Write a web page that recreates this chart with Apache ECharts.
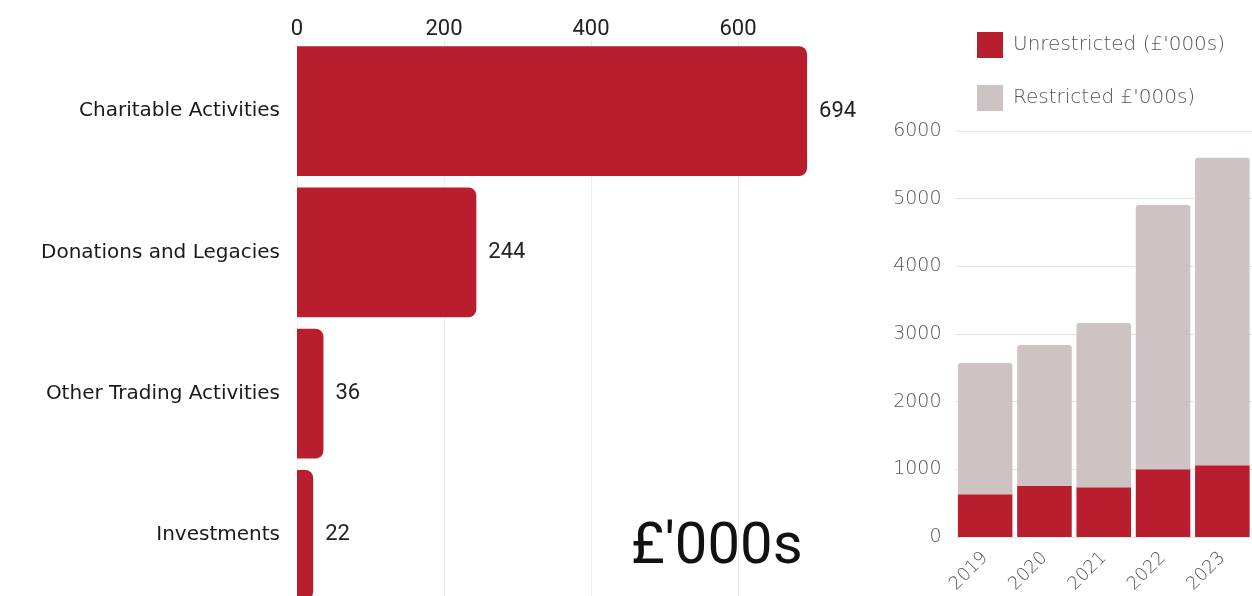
<!DOCTYPE html>
<html>
<head>
<meta charset="utf-8">
<script src="https://cdn.jsdelivr.net/npm/echarts@6/dist/echarts.min.js"></script>
<style>
  html, body { margin: 0; padding: 0; background: #fff; overflow: hidden; }
  /* the lowest bar runs past the bottom edge, so the canvas is a little taller than the view */
  #chart { width: 1252px; height: 612px; }
</style>
</head>
<body>
<div id="chart"></div>
<script>
// Income by source (£'000s)
const incomeSources = ['Charitable Activities', 'Donations and Legacies', 'Other Trading Activities', 'Investments'];
const incomeValues = [694, 244, 36, 22];
const incomeTicks = [0, 200, 400, 600];

// Funds by year (£'000s)
const years = ['2019', '2020', '2021', '2022', '2023'];
const unrestricted = [630, 757, 737, 1000, 1060];
const restricted = [1940, 2080, 2424, 3906, 4546];
const fundTicks = [0, 1000, 2000, 3000, 4000, 5000, 6000];

const RED = '#b81e2d';
const GREY = '#cdc3c3';
const LABEL_FONT = '"DejaVu Sans", "Noto Sans", sans-serif';
const NUM_FONT = 'Roboto, "Noto Sans", sans-serif';

const chart = echarts.init(document.getElementById('chart'));

chart.setOption({
  animation: false,
  title: {
    text: "£'000s",
    left: 631,
    top: 519,
    padding: 0,
    textStyle: { fontFamily: NUM_FONT, fontSize: 58, fontWeight: 'normal', color: '#111' }
  },
  legend: {
    orient: 'vertical',
    left: 972,
    top: 27,
    itemWidth: 26,
    itemHeight: 26,
    itemGap: 27,
    icon: 'rect',
    textStyle: { fontFamily: LABEL_FONT, fontSize: 20, fontWeight: 200, color: '#555', padding: [0, 0, 0, 5] },
    data: ['Unrestricted (£\'000s)', 'Restricted £\'000s)']
  },
  grid: [
    { left: 297, top: 40.5, width: 514.5, height: 565, containLabel: false },
    { left: 955.5, top: 131, width: 300, height: 406, containLabel: false }
  ],
  xAxis: [
    {
      gridIndex: 0,
      type: 'value',
      position: 'top',
      min: incomeTicks[0],
      max: 700,
      interval: incomeTicks[1] - incomeTicks[0],
      axisLine: { show: false },
      axisTick: { show: false },
      axisLabel: {
        showMaxLabel: false,
        margin: 0,
        fontFamily: NUM_FONT, fontSize: 22, color: '#222'
      },
      splitLine: { show: true, showMaxLine: false, lineStyle: { color: '#ececec', width: 1 } }
    },
    {
      gridIndex: 1,
      type: 'category',
      data: years,
      axisLine: { show: false },
      axisTick: { show: false },
      axisLabel: {
        rotate: 45,
        margin: 18,
        fontFamily: LABEL_FONT, fontSize: 18, fontWeight: 200, color: '#555'
      }
    }
  ],
  yAxis: [
    {
      gridIndex: 0,
      type: 'category',
      inverse: true,
      data: incomeSources,
      axisLine: { show: false },
      axisTick: { show: false },
      axisLabel: {
        margin: 17,
        fontFamily: LABEL_FONT, fontSize: 20, color: '#1a1a1a'
      }
    },
    {
      gridIndex: 1,
      type: 'value',
      min: fundTicks[0],
      max: fundTicks[fundTicks.length - 1],
      interval: fundTicks[1] - fundTicks[0],
      axisLine: { show: false },
      axisTick: { show: false },
      axisLabel: {
        margin: 14,
        formatter: (v) => String(v),
        fontFamily: LABEL_FONT, fontSize: 19, fontWeight: 200, color: '#555'
      },
      splitLine: { show: true, lineStyle: { color: '#e4e4e4', width: 1 } }
    }
  ],
  series: [
    {
      type: 'bar',
      xAxisIndex: 0,
      yAxisIndex: 0,
      data: incomeValues,
      barCategoryGap: '8%',
      itemStyle: { color: RED, borderRadius: [0, 8, 8, 0] },
      label: {
        show: true,
        position: 'right',
        distance: 12,
        fontFamily: NUM_FONT, fontSize: 22, color: '#222'
      }
    },
    {
      name: 'Unrestricted (£\'000s)',
      type: 'bar',
      xAxisIndex: 1,
      yAxisIndex: 1,
      stack: 'funds',
      data: unrestricted,
      barCategoryGap: '8%',
      itemStyle: { color: RED }
    },
    {
      name: 'Restricted £\'000s)',
      type: 'bar',
      xAxisIndex: 1,
      yAxisIndex: 1,
      stack: 'funds',
      data: restricted,
      barCategoryGap: '8%',
      itemStyle: { color: GREY, borderRadius: [3, 3, 0, 0] }
    }
  ]
});
</script>
</body>
</html>
